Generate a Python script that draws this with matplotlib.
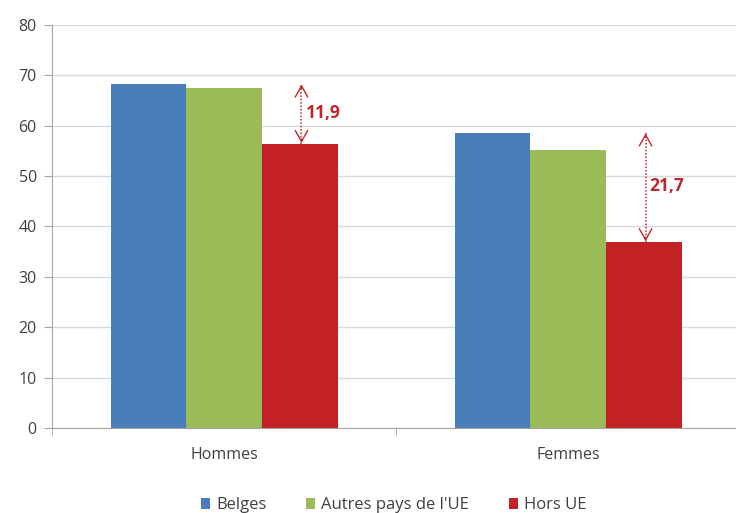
import numpy as np
import matplotlib.pyplot as plt

plt.rcParams['font.family'] = ['Open Sans', 'DejaVu Sans']

# Employment rate by sex and nationality group
categories = ['Hommes', 'Femmes']
series_names = ['Belges', 'Autres pays de l\'UE', 'Hors UE']
belges = [68.3, 58.6]
autres_ue = [67.4, 55.1]
gaps = [11.9, 21.7]  # Belges minus Hors UE
hors_ue = [b - g for b, g in zip(belges, gaps)]

colors = ['#4A7EBB', '#9BBB59', '#C42127']
label_red = '#C0272D'
grey_text = '#404040'

fig = plt.figure(figsize=(7.36, 5.13), dpi=100)
ax = fig.add_axes([0.0707, 0.1657, 0.935, 0.786])

x = np.arange(len(categories))
width = 0.22
offsets = [-width, 0, width]
for vals, off, col, name in zip([belges, autres_ue, hors_ue], offsets, colors, series_names):
    ax.bar(x + off, vals, width=width, color=col, label=name, zorder=3)

# double-headed dotted arrows showing the gap Belges / Hors UE
for xi, top, gap in zip(x, belges, gaps):
    xa = xi + width + 0.005
    low = top - gap
    ax.vlines(xa, low, top, colors=label_red, linestyles=(0, (1, 1.2)), lw=1.1, zorder=4)
    for tip, start in [(top + 0.4, top - 1.5), (low - 0.4, low + 1.5)]:
        ax.annotate('', xy=(xa, tip), xytext=(xa, start),
                    arrowprops=dict(arrowstyle='->,head_length=0.8,head_width=0.45',
                                    color=label_red, lw=1.0), zorder=4)
    ax.text(xa + 0.012, (top + low) / 2 + 0.2, f'{gap:.1f}'.replace('.', ','),
            color=label_red, fontsize=12.5, fontweight='bold', va='center', ha='left')

ax.set_xlim(-0.5, 1.5)
ax.set_ylim(0, 80)
ax.set_yticks(np.arange(0, 81, 10))
ax.yaxis.grid(True, color='#D9D9D9', lw=1, zorder=0)
ax.set_axisbelow(True)

ax.set_xticks(x)
ax.set_xticklabels(categories)
ax.set_xticks([-0.5, 0.5, 1.5], minor=True)
ax.tick_params(axis='x', which='major', length=0, pad=14, labelsize=11.5, labelcolor=grey_text)
ax.tick_params(axis='x', which='minor', length=5, color='#A6A6A6', direction='out')
ax.tick_params(axis='y', length=6, color='#A6A6A6', labelsize=11.5, labelcolor=grey_text, pad=5)

for side in ['top', 'right']:
    ax.spines[side].set_visible(False)
for side in ['left', 'bottom']:
    ax.spines[side].set_color('#A6A6A6')

leg = fig.legend(loc='lower center', bbox_to_anchor=(0.535, -0.03), ncol=3, frameon=False,
                 fontsize=12, handlelength=0.55, handleheight=0.55, handletextpad=0.35,
                 columnspacing=2.4)
for t in leg.get_texts():
    t.set_color(grey_text)

fig.savefig('out.png', dpi=100)
